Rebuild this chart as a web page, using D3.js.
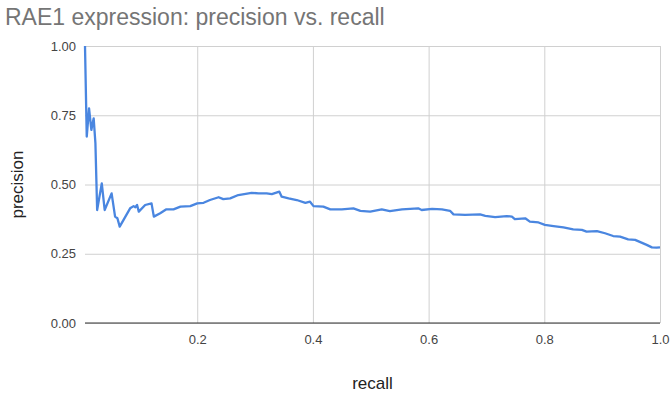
<html>
<head>
<meta charset="utf-8">
<title>RAE1 expression: precision vs. recall</title>
<style>
  body { margin: 0; background: #fff; }
  text { font-family: "Liberation Sans", Arial, sans-serif; }
  .grid line { stroke: #d0d0d0; stroke-width: 1; }
  .tick text { fill: #444; font-size: 13px; }
</style>
</head>
<body>
<script src="https://cdn.jsdelivr.net/npm/d3@7"></script>
<script>
// data
var recall = [0.006, 0.009, 0.013, 0.017, 0.021, 0.024, 0.027, 0.035, 0.040, 0.052, 0.058, 0.062, 0.066,
  0.084, 0.090, 0.093, 0.096, 0.099, 0.110, 0.121, 0.125, 0.136, 0.146, 0.159, 0.171, 0.188, 0.200, 0.211,
  0.222, 0.237, 0.245, 0.257, 0.271, 0.294, 0.306, 0.320, 0.329, 0.342, 0.346, 0.358, 0.372, 0.387, 0.395,
  0.401, 0.418, 0.430, 0.450, 0.470, 0.482, 0.499, 0.519, 0.533, 0.554, 0.582, 0.588, 0.606, 0.623, 0.637,
  0.643, 0.663, 0.689, 0.698, 0.715, 0.735, 0.744, 0.749, 0.767, 0.775, 0.790, 0.801, 0.816, 0.833, 0.850,
  0.865, 0.873, 0.891, 0.905, 0.919, 0.931, 0.945, 0.957, 0.968, 0.977, 0.986, 0.994, 1.000];
var precision = [1.000, 0.673, 0.775, 0.697, 0.739, 0.649, 0.408, 0.504, 0.408, 0.468, 0.384, 0.378, 0.348,
  0.414, 0.422, 0.418, 0.426, 0.402, 0.426, 0.432, 0.384, 0.396, 0.410, 0.410, 0.420, 0.422, 0.432, 0.434,
  0.444, 0.454, 0.447, 0.450, 0.462, 0.470, 0.468, 0.468, 0.465, 0.474, 0.456, 0.450, 0.444, 0.434, 0.438,
  0.422, 0.420, 0.410, 0.410, 0.414, 0.405, 0.402, 0.410, 0.404, 0.410, 0.414, 0.408, 0.412, 0.410, 0.405,
  0.392, 0.390, 0.392, 0.387, 0.382, 0.386, 0.384, 0.375, 0.378, 0.366, 0.363, 0.354, 0.350, 0.345, 0.338,
  0.336, 0.330, 0.332, 0.324, 0.314, 0.312, 0.302, 0.300, 0.290, 0.282, 0.273, 0.272, 0.273];
var xTicks = [0.2, 0.4, 0.6, 0.8, 1.0];
var yTicks = [0, 0.25, 0.5, 0.75, 1];

var width = 672, height = 393;
var margin = {top: 46, right: 12, bottom: 70, left: 85};

var svg = d3.select("body").append("svg")
  .attr("width", width)
  .attr("height", height);

var x = d3.scaleLinear().domain([0.006, 1]).range([margin.left, width - margin.right]);
var y = d3.scaleLinear().domain([0, 1]).range([height - margin.bottom, margin.top]);

// title
svg.append("text")
  .attr("x", 5).attr("y", 25)
  .style("font-size", "23px")
  .style("fill", "#757575")
  .text("RAE1 expression: precision vs. recall");

// horizontal grid + y labels
var yAxis = svg.append("g")
  .attr("class", "grid")
  .attr("transform", "translate(" + margin.left + ",0)")
  .call(d3.axisLeft(y).tickValues(yTicks).tickFormat(d3.format(".2f"))
    .tickSize(-(width - margin.left - margin.right)).tickPadding(9));
yAxis.select(".domain").remove();

// vertical grid + x labels
var xAxis = svg.append("g")
  .attr("class", "grid")
  .attr("transform", "translate(0," + (height - margin.bottom) + ")")
  .call(d3.axisBottom(x).tickValues(xTicks).tickFormat(d3.format(".1f"))
    .tickSize(-(height - margin.top - margin.bottom)).tickPadding(12));
xAxis.select(".domain").remove();

// baseline
svg.append("line")
  .attr("x1", x.range()[0]).attr("x2", x.range()[1])
  .attr("y1", y(0)).attr("y2", y(0))
  .attr("stroke", "#333").attr("stroke-width", 1);

// curve
var pts = recall.map(function(r, i) { return [r, precision[i]]; });
var line = d3.line()
  .x(function(d) { return x(d[0]); })
  .y(function(d) { return y(d[1]); });
svg.append("path")
  .datum(pts)
  .attr("d", line)
  .attr("fill", "none")
  .attr("stroke", "#4a86e0")
  .attr("stroke-width", 2.3)
  .attr("stroke-linejoin", "round");

// axis titles
svg.append("text")
  .attr("x", (x.range()[0] + x.range()[1]) / 2).attr("y", 389)
  .attr("text-anchor", "middle")
  .style("font-size", "17px").style("fill", "#222")
  .text("recall");
svg.append("text")
  .attr("transform", "translate(23," + y(0.5) + ") rotate(-90)")
  .attr("text-anchor", "middle")
  .style("font-size", "17px").style("fill", "#222")
  .text("precision");
</script>
</body>
</html>
